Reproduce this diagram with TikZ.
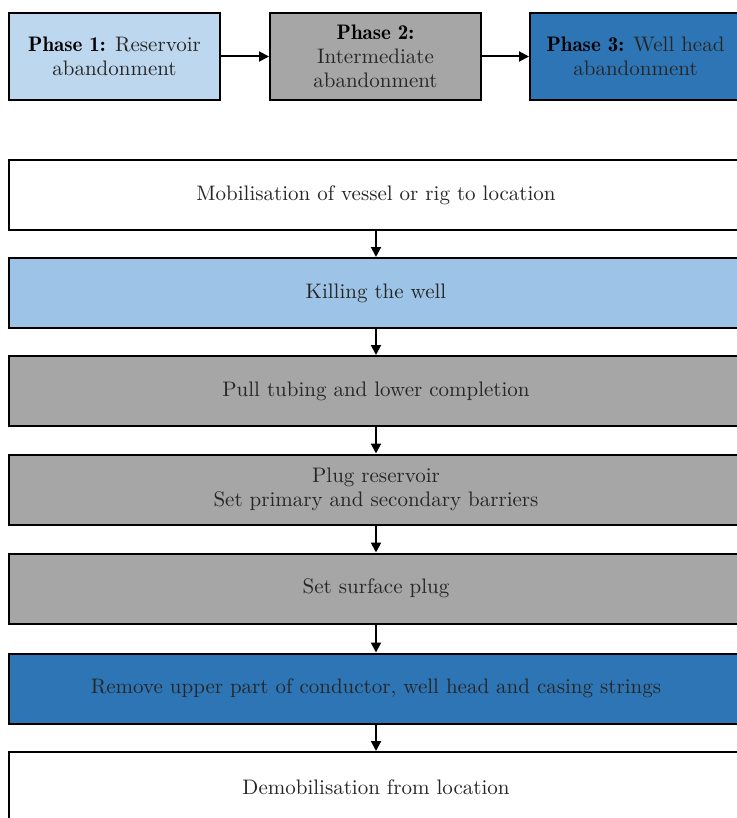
\documentclass[tikz,border=0pt]{standalone}
\usetikzlibrary{arrows.meta}

\definecolor{phaseone}{HTML}{BDD7EE}
\definecolor{killblue}{HTML}{9DC3E6}
\definecolor{phasetwo}{HTML}{A6A6A6}
\definecolor{phasethree}{HTML}{2E75B6}
\definecolor{txtgrey}{HTML}{262626}

\newcommand{\phasename}[1]{{\fontseries{b}\selectfont\color{black}#1}}

\begin{document}
\begin{tikzpicture}[x=0.5pt,y=-0.5pt,
    box/.style={draw=black,line width=1pt,align=center,inner sep=0pt,
        text=txtgrey,font=\fontsize{10.5}{12}\selectfont},
    phasebox/.style={box,minimum width=105.5pt,minimum height=43.5pt},
    stepbox/.style={box,minimum width=367pt,minimum height=35pt},
    arr/.style={-{Triangle[length=5pt,width=5pt]},line width=1pt,black}]

    % page (the right and lower edges are cut off)
    \clip (0,0) rectangle (737,818);

    % phases
    \node[phasebox,fill=phaseone] (p1) at (114.5,56.5) {\phasename{Phase 1:} Reservoir\\abandonment};
    \node[phasebox,fill=phasetwo] (p2) at (375.5,56.5) {\phasename{Phase 2:}\\Intermediate\\abandonment};
    \node[phasebox,fill=phasethree] (p3) at (635.5,56.5) {\phasename{Phase 3:} Well head\\abandonment};

    \draw[arr] (p1) -- (p2);
    \draw[arr] (p2) -- (p3);

    % steps
    \foreach \i/\y/\c/\t in {1/195/white/{Mobilisation of vessel or rig to location},
                             2/293/killblue/{Killing the well},
                             3/391/phasetwo/{Pull tubing and lower completion},
                             4/489.5/phasetwo/{Plug reservoir\\Set primary and secondary barriers},
                             5/588.5/phasetwo/{Set surface plug},
                             6/688.5/phasethree/{Remove upper part of conductor, well head and casing strings},
                             7/787/white/{Demobilisation from location}}{
        \node[stepbox,fill=\c] (s\i) at (376,\y) {\t};
    }

    \foreach \a/\b in {1/2,2/3,3/4,4/5,5/6,6/7}{
        \draw[arr] (s\a) -- (s\b);
    }

\end{tikzpicture}
\end{document}
